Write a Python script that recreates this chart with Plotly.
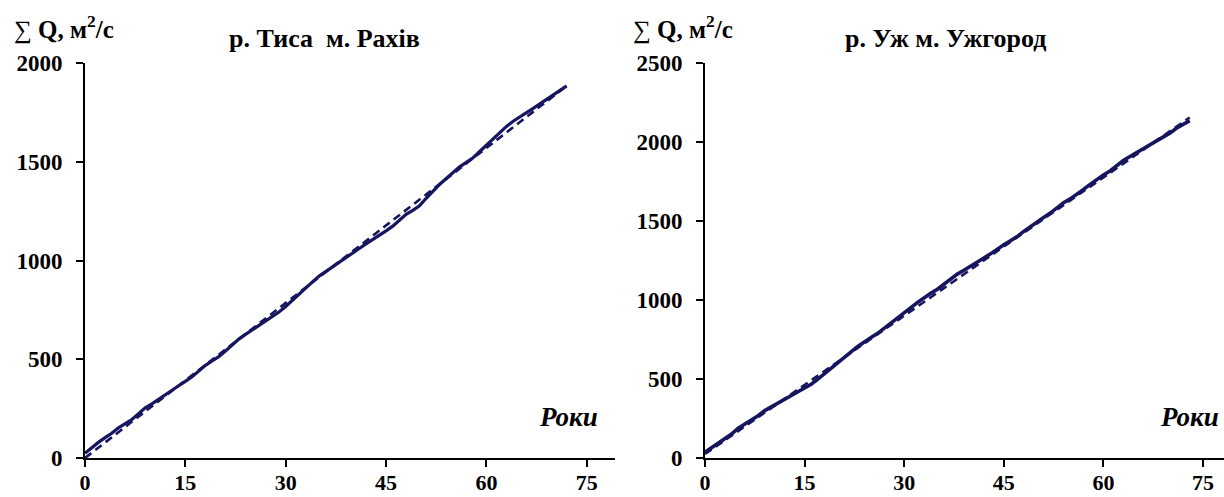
import plotly.graph_objects as go

W, H = 1224, 497

# ---- data ----
years_tisa = list(range(0, 73))
sumq_tisa = [24, 54, 79, 103, 125, 153, 175, 195, 224, 254,
             274, 298, 322, 345, 366, 388, 411, 440, 469, 491,
             513, 542, 572, 602, 626, 649, 670, 693, 717, 739,
             767, 799, 829, 862, 892, 921, 945, 968, 992, 1016,
             1039, 1061, 1084, 1105, 1127, 1150, 1174, 1204, 1234, 1254,
             1277, 1315, 1351, 1385, 1415, 1444, 1474, 1497, 1520, 1552,
             1585, 1618, 1651, 1679, 1705, 1729, 1749, 1770, 1792, 1814,
             1837, 1860, 1884]
trend_tisa_x = [0, 72]
trend_tisa_y = [0, 1884]

years_uzh = list(range(0, 74))
sumq_uzh = [36, 66, 93, 121, 152, 189, 215, 237, 268, 300,
            325, 348, 370, 394, 419, 443, 467, 499, 535, 569,
            604, 638, 672, 706, 737, 763, 789, 823, 854, 886,
            918, 952, 984, 1016, 1042, 1068, 1100, 1133, 1164, 1188,
            1212, 1239, 1266, 1292, 1324, 1350, 1375, 1401, 1434, 1465,
            1496, 1523, 1550, 1584, 1616, 1640, 1667, 1700, 1732, 1765,
            1791, 1817, 1852, 1883, 1908, 1932, 1956, 1980, 2004, 2030,
            2056, 2087, 2108, 2135]
trend_uzh_x = [0, 73]
trend_uzh_y = [25, 2155]

x_ticks = [0, 15, 30, 45, 60, 75]
y_ticks_tisa = [0, 500, 1000, 1500, 2000]
y_ticks_uzh = [0, 500, 1000, 1500, 2000, 2500]

titles = ["р. Тиса&nbsp; м. Рахів", "р. Уж м. Ужгород"]

# ---- style ----
LINE = "#17155f"
FONT = "Liberation Serif, Times New Roman, serif"

def px_x(p):
    return p / W

def px_y(p):
    return 1 - p / H

fig = go.Figure()

fig.add_trace(go.Scatter(x=years_tisa, y=sumq_tisa, mode="lines",
                         line=dict(color=LINE, width=3.2), xaxis="x", yaxis="y",
                         showlegend=False))
fig.add_trace(go.Scatter(x=trend_tisa_x, y=trend_tisa_y, mode="lines",
                         line=dict(color=LINE, width=2.6, dash="8px,5px"),
                         xaxis="x", yaxis="y", showlegend=False))
fig.add_trace(go.Scatter(x=years_uzh, y=sumq_uzh, mode="lines",
                         line=dict(color=LINE, width=3.6), xaxis="x2", yaxis="y2",
                         showlegend=False))
fig.add_trace(go.Scatter(x=trend_uzh_x, y=trend_uzh_y, mode="lines",
                         line=dict(color=LINE, width=2.6, dash="8px,5px"),
                         xaxis="x2", yaxis="y2", showlegend=False))

tickfont_x = dict(family=FONT, size=22, color="black", weight="bold")
tickfont_y = dict(family=FONT, size=23, color="black", weight="bold")
common_x = dict(showgrid=False, zeroline=False, showline=True, linecolor="black",
                linewidth=2, ticks="outside", ticklen=7, tickwidth=2,
                tickcolor="black", tickvals=x_ticks, tickfont=tickfont_x,
                ticklabelstandoff=-3,
                automargin=False, fixedrange=True)
common_y = dict(showgrid=False, zeroline=False, showline=True, linecolor="black",
                linewidth=2, ticks="outside", ticklen=7, tickwidth=2,
                tickcolor="black", tickfont=tickfont_y, ticklabelstandoff=9,
                automargin=False, fixedrange=True)

y_dom = [px_y(458), px_y(63)]

fig.update_layout(
    width=W, height=H,
    margin=dict(l=0, r=0, t=0, b=0, autoexpand=False),
    paper_bgcolor="white", plot_bgcolor="white",
    xaxis=dict(domain=[px_x(85), px_x(615)], range=[0, (615 - 85) / 6.69],
               anchor="y", **common_x),
    yaxis=dict(domain=y_dom, range=[0, 2000], tickvals=y_ticks_tisa,
               anchor="x", **common_y),
    xaxis2=dict(domain=[px_x(705), px_x(1224)], range=[0, (1224 - 705) / 6.64],
                anchor="y2", **common_x),
    yaxis2=dict(domain=y_dom, range=[0, 2500], tickvals=y_ticks_uzh,
                anchor="x2", **common_y),
)

ann = []
ann.append(dict(text="<b>" + titles[0] + "</b>", x=px_x(324), y=px_y(38), size=26))
ann.append(dict(text="<b>" + titles[1] + "</b>", x=px_x(945), y=px_y(38), size=26))
ylab = "∑ <b>Q, м<sup>2</sup>/с</b>"
ann.append(dict(text=ylab, x=px_x(64), y=px_y(27), size=25))
ann.append(dict(text=ylab, x=px_x(683), y=px_y(27), size=25))
ann.append(dict(text="<b><i>Роки</i></b>", x=px_x(568), y=px_y(417), size=27))
ann.append(dict(text="<b><i>Роки</i></b>", x=px_x(1189), y=px_y(417), size=27))

for a in ann:
    s = a.pop("size")
    a.update(xref="paper", yref="paper", showarrow=False,
             xanchor="center", yanchor="middle",
             font=dict(family=FONT, size=s, color="black"))
fig.update_layout(annotations=ann)

fig.write_html("out.html")
